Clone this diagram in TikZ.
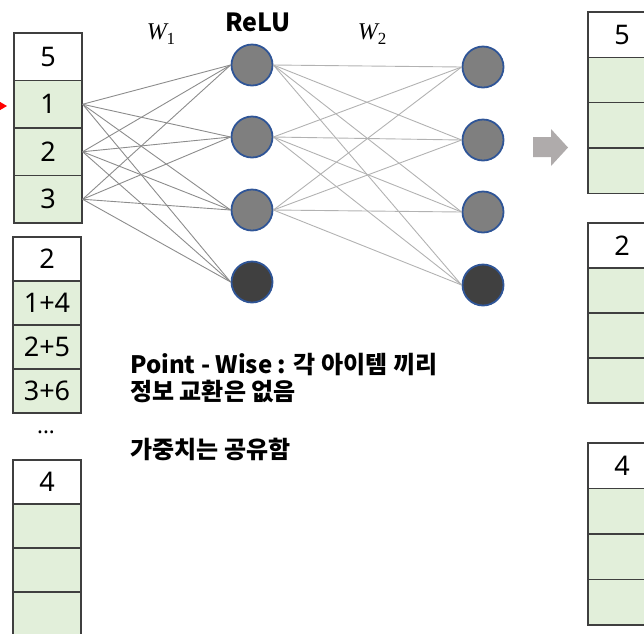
\documentclass[tikz,border=0pt]{standalone}
\usepackage{fontspec}
\setmainfont{Noto Sans CJK KR}
\newfontfamily\digitfont{Noto Sans}
\newfontfamily\wfont{Liberation Serif}
\usetikzlibrary{arrows.meta}

\definecolor{cellgreen}{HTML}{E2EFDA}
\definecolor{cellborder}{HTML}{3F3F3F}
\definecolor{neurongray}{HTML}{7F7F7F}
\definecolor{neurondark}{HTML}{404040}
\definecolor{neuronedge}{HTML}{2F5597}
\definecolor{arrowgray}{HTML}{AFABAB}

% weight matrix label, W with an upright index
\newcommand{\wmat}[1]{{\itshape W}\raisebox{-5pt}{\fontsize{17}{17}\selectfont #1}}

\begin{document}
\begin{tikzpicture}[x=1pt, y=-1pt,
        cell/.style = {draw=cellborder, line width=1.2pt, fill=cellgreen,
            minimum width=68pt, inner sep=0pt,
            font=\digitfont\fontsize{27}{27}\selectfont},
        headcell/.style = {cell, fill=white},
        neuron/.style = {circle, minimum size=41pt, fill=neurongray,
            draw=neuronedge, line width=1.8pt},
        bias/.style = {neuron, fill=neurondark},
        w1line/.style = {draw=black!45, line width=0.9pt},
        w2line/.style = {draw=black!30, line width=0.9pt},
        wlabel/.style = {font=\wfont\fontsize{24}{24}\selectfont},
        note/.style = {anchor=base west, inner sep=0pt,
            font=\bfseries\fontsize{24}{24}\selectfont}]

        \clip (0,0) rectangle (644,633);

        % Token columns: name/x/top/cell height/labels
        \foreach \col/\x/\top/\h/\a/\b/\c/\d in {
                la/48/33/47.5/5/1/2/3,
                lb/47/237/44/2/1+4/2+5/3+6,
                lc/47/460/44/4/{}/{}/{},
                ra/622/12/45.3/5/{}/{}/{},
                rb/622/223/45/2/{}/{}/{},
                rc/622/443/45.5/4/{}/{}/{}} {
            \node[headcell, minimum height=\h pt] (\col0) at (\x,{\top+0.5*\h}) {\a};
            \node[cell, minimum height=\h pt] (\col1) at (\x,{\top+1.5*\h}) {\b};
            \node[cell, minimum height=\h pt] (\col2) at (\x,{\top+2.5*\h}) {\c};
            \node[cell, minimum height=\h pt] (\col3) at (\x,{\top+3.5*\h}) {\d};
        }
        \node[font=\digitfont\fontsize{22}{22}\selectfont] (dots) at (46,432) {...};

        % Hidden layer
        \foreach \i/\y in {1/65, 2/137, 3/210}
            \node[neuron] (h\i) at (252,\y) {};
        \node[bias] (h4) at (252,282) {};

        % Output layer
        \foreach \i/\y in {1/67, 2/140, 3/212}
            \node[neuron] (o\i) at (483,\y) {};
        \node[bias] (o4) at (483,285) {};

        % Weights W1 and W2
        \foreach \i in {1,2,3}
            \foreach \j in {1,...,4}
                \draw[w1line] (la\i.east) -- (h\j.west);
        \foreach \i in {1,2,3}
            \foreach \j in {1,...,4}
                \draw[w2line] (h\i.east) -- (o\j.west);

        % Layer labels
        \node[font=\bfseries\fontsize{25}{25}\selectfont] (relu) at (258,22) {ReLU};
        \node[wlabel] (w1) at (161,34) {\wmat{1}};
        \node[wlabel] (w2) at (372,34) {\wmat{2}};

        % Input marker
        \coordinate (in1) at (7,106);
        \draw[red, line width=1pt, -{Triangle[length=8pt, width=9pt]}] (-20,106) -- (in1);

        % Block arrow between the columns
        \fill[arrowgray] (533,137) -- (551,137) -- (551,129) -- (568,147.5)
            -- (551,166) -- (551,157) -- (533,157) -- cycle;

        % Notes
        \node[note] (pw) at (130,373) {Point - Wise : 각 아이템 끼리};
        \node[note] (noex) at (130,400) {정보 교환은 없음};
        \node[note] (share) at (130,458) {가중치는 공유함};

    \end{tikzpicture}
\end{document}
